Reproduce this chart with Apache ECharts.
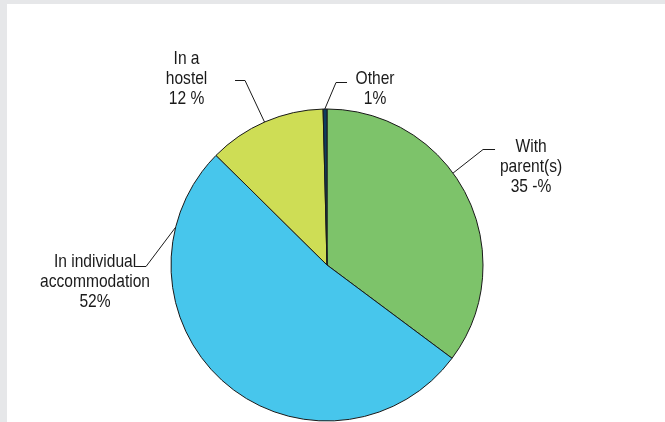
<!DOCTYPE html>
<html>
<head>
<meta charset="utf-8">
<script src="https://cdn.jsdelivr.net/npm/echarts@6/dist/echarts.min.js"></script>
<style>
  html, body { margin: 0; padding: 0; background: #e6e7e9; }
  #chart { width: 665px; height: 422px; }
</style>
</head>
<body>
<div id="chart"></div>
<script>
// ---- data ----
const categories = ['With parent(s)', 'In individual accommodation', 'In a hostel', 'Other'];
const values = [35.2, 52.2, 12.2, 0.4];
const labelTexts = [
  ['With', 'parent(s)', '35 -%'],
  ['In individual', 'accommodation', '52%'],
  ['In a', 'hostel', '12 %'],
  ['Other', '1%']
];
const colors = ['#7dc36a', '#47c6ec', '#cedd55', '#0f3d5e'];

// ---- layout / style ----
const CX = 327, CY = 265, R = 156;
// anchor angle on the rim (deg, clockwise from top), elbow offset, horizontal run, text-centre offset from run end
const labelPlacement = [
  { angle: 53.9,  elbow: [30, -24],      run: 12,  text: [36, 17] },
  { angle: 284,   elbow: [-29.6, 39.2],  run: -11, text: [-40, 15.5] },
  { angle: 336.4, elbow: [-19.5, -42.5], run: -10, text: [-48.5, -2] },
  { angle: 359.2, elbow: [11.2, -27],    run: 11,  text: [28, 6] }
];
const FONT = '19px "Liberation Sans", Arial, sans-serif';
const SCALE_X = 0.82;

function labelGraphics() {
  const out = [];
  labelPlacement.forEach((pl, i) => {
    const a = pl.angle * Math.PI / 180;
    const anchor = [CX + R * Math.sin(a), CY - R * Math.cos(a)];
    const elbow = [anchor[0] + pl.elbow[0], Math.round(anchor[1] + pl.elbow[1]) + 0.5];
    const end = [elbow[0] + pl.run, elbow[1]];
    out.push({
      type: 'polyline', z: 10, silent: true,
      shape: { points: [anchor, elbow, end] },
      style: { stroke: '#1a1a1a', lineWidth: 1, fill: null }
    });
    out.push({
      type: 'text', z: 10, silent: true,
      x: end[0] + pl.text[0], y: end[1] + pl.text[1],
      scaleX: SCALE_X,
      style: {
        text: labelTexts[i].join('\n'),
        font: FONT, lineHeight: 20,
        fill: '#1a1a1a', align: 'center', verticalAlign: 'middle'
      }
    });
  });
  return out;
}

const chart = echarts.init(document.getElementById('chart'), null, { renderer: 'canvas' });

chart.setOption({
  animation: false,
  backgroundColor: '#e6e7e9',
  graphic: [{
    type: 'rect', z: 0, silent: true,
    shape: { x: 7, y: 4, width: 665, height: 422 },
    style: { fill: '#ffffff' }
  }].concat(labelGraphics()),
  series: [{
    type: 'pie',
    center: [CX, CY],
    radius: R,
    startAngle: 90,
    clockwise: true,
    emphasis: { disabled: true },
    itemStyle: { borderColor: '#1a1a1a', borderWidth: 1 },
    label: { show: false },
    labelLine: { show: false },
    data: categories.map((name, i) => ({
      name: name,
      value: values[i],
      itemStyle: { color: colors[i] }
    }))
  }]
});
</script>
</body>
</html>
